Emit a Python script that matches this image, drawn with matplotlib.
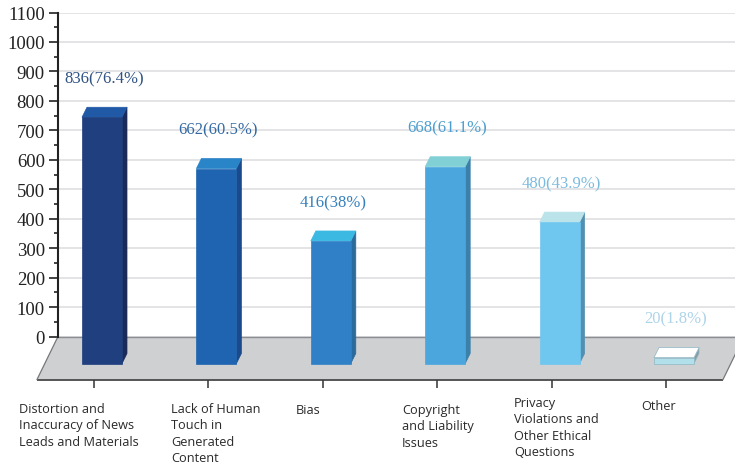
import matplotlib
matplotlib.use("Agg")
import matplotlib.pyplot as plt
from matplotlib.patches import Polygon
from matplotlib.ticker import MultipleLocator

categories = [
    "Distortion and\nInaccuracy of News\nLeads and Materials",
    "Lack of Human\nTouch in\nGenerated\nContent",
    "Bias",
    "Copyright\nand Liability\nIssues",
    "Privacy\nViolations and\nOther Ethical\nQuestions",
    "Other",
]
counts = [836, 662, 416, 668, 480, 20]
shares = ["76.4", "60.5", "38", "61.1", "43.9", "1.8"]

front_colors = ["#1f3f7e", "#1f64b0", "#2f80c6", "#4ba6dd", "#6fc6ef", "#b2e0ea"]
top_colors = ["#2059a6", "#2a84c8", "#3cb9e2", "#80d0d6", "#bbe3ea", "#ffffff"]
side_colors = ["#1c2a58", "#1a4a8c", "#2a6a9c", "#3a80a8", "#5290b0", "#8a9ca4"]
label_colors = ["#2f5285", "#336aa3", "#3580bc", "#4c9ed0", "#7dbbde", "#aed4e8"]

FIG_W, FIG_H = 735, 464
PX_PER_UNIT = 324 / 1100          # vertical pixels per unit of the value axis
PX_PER_CAT = 114.4                # horizontal pixels between categories
TICK0_X = 94                      # pixel position of the first category tick


def ux(px):
    """Horizontal pixel distance in category units."""
    return px / PX_PER_CAT


def uy(px):
    """Vertical pixel distance in value units."""
    return px / PX_PER_UNIT


fig = plt.figure(figsize=(FIG_W / 100, FIG_H / 100), dpi=100)
ax = fig.add_axes([58 / FIG_W, 1 - 337.5 / FIG_H, (FIG_W - 58) / FIG_W, 324 / FIG_H])
ax.set_ylim(0, 1100)
ax.set_xlim(ux(58 - TICK0_X), ux(FIG_W - TICK0_X))

# Value axis and gridlines
ax.yaxis.set_major_locator(MultipleLocator(100))
ax.yaxis.set_minor_locator(MultipleLocator(50))
ax.grid(axis="y", which="major", color="#dcdde0", lw=1.1, zorder=0)
ax.tick_params(axis="y", which="major", length=6.5, width=1.2, color="#222222", pad=3,
               labelsize=13.5, labelcolor="#222222")
ax.tick_params(axis="y", which="minor", length=3, width=1.2, color="#222222")
for lab in ax.get_yticklabels():
    lab.set_family("Liberation Serif")
for name in ("top", "right"):
    ax.spines[name].set_visible(False)
ax.spines["left"].set_linewidth(1.5)
ax.spines["left"].set_color("#222222")
ax.spines["left"].set_zorder(6)

# Category ticks sit under the front edge of the floor
ax.spines["bottom"].set_visible(False)
ax.spines["bottom"].set_position(("outward", 43 * 0.72))
ax.set_xticks(range(len(categories)))
ax.set_xticklabels([])
ax.tick_params(axis="x", length=5.5, width=1.1, color="#333333")

# Floor of the pseudo-3D chart
floor_front = -uy(43)
floor = Polygon(
    [(ux(58 - TICK0_X), 0), (ux(744 - TICK0_X), 0),
     (ux(723 - TICK0_X), floor_front), (ux(37 - TICK0_X), floor_front)],
    closed=True, facecolor="#cfd0d2", edgecolor="none", clip_on=False, zorder=1,
)
ax.add_patch(floor)
ax.plot([ux(37 - TICK0_X), ux(723 - TICK0_X)], [floor_front, floor_front],
        color="#3a3a3a", lw=1.2, clip_on=False, zorder=2, solid_capstyle="butt")
ax.plot([ux(58 - TICK0_X), ux(744 - TICK0_X)], [0, 0],
        color="#8c8d90", lw=1.0, clip_on=False, zorder=2)
ax.plot([ux(37 - TICK0_X), ux(58 - TICK0_X)], [floor_front, 0],
        color="#77787a", lw=0.9, clip_on=False, zorder=2)
ax.plot([ux(723 - TICK0_X), ux(744 - TICK0_X)], [floor_front, 0],
        color="#77787a", lw=0.9, clip_on=False, zorder=2)

# Bars: side face, top face and front face, then the value label
half_w = ux(20)
shift = ux(8)
dep_x, dep_y = ux(5), uy(10)
base = -uy(27)
for i, value in enumerate(counts):
    left, right = i + shift - half_w, i + shift + half_w
    top = base + value
    side = [(right, base), (right + dep_x, base + dep_y),
            (right + dep_x, top + dep_y), (right, top)]
    lid = [(left, top), (left + dep_x, top + dep_y),
           (right + dep_x, top + dep_y), (right, top)]
    front = [(left, base), (right, base), (right, top), (left, top)]
    for pts, col in ((side, side_colors[i]), (lid, top_colors[i]), (front, front_colors[i])):
        # The pale last bar gets a visible outline, the others an edge that seals the seams
        edge = "#8fb6c4" if i == 5 else col
        ax.add_patch(Polygon(pts, closed=True, facecolor=col, edgecolor=edge, lw=0.5,
                             clip_on=False, zorder=3))
    ax.text(i + shift + ux(2), top + dep_y + uy(29), f"{value}({shares[i]}%)",
            ha="center", va="center", fontsize=12, family="Liberation Serif",
            color=label_colors[i], zorder=5)

# Category captions
caption_x = [19, 171, 296, 402, 514, 641]
caption_y = [403, 403, 404, 404, 397, 400]
for text, px, py in zip(categories, caption_x, caption_y):
    fig.text(px / FIG_W, 1 - py / FIG_H, text, ha="left", va="top", fontsize=9.2,
             family="Open Sans", color="#2a2a2a", linespacing=1.33)

fig.savefig("out.png", dpi=100)
